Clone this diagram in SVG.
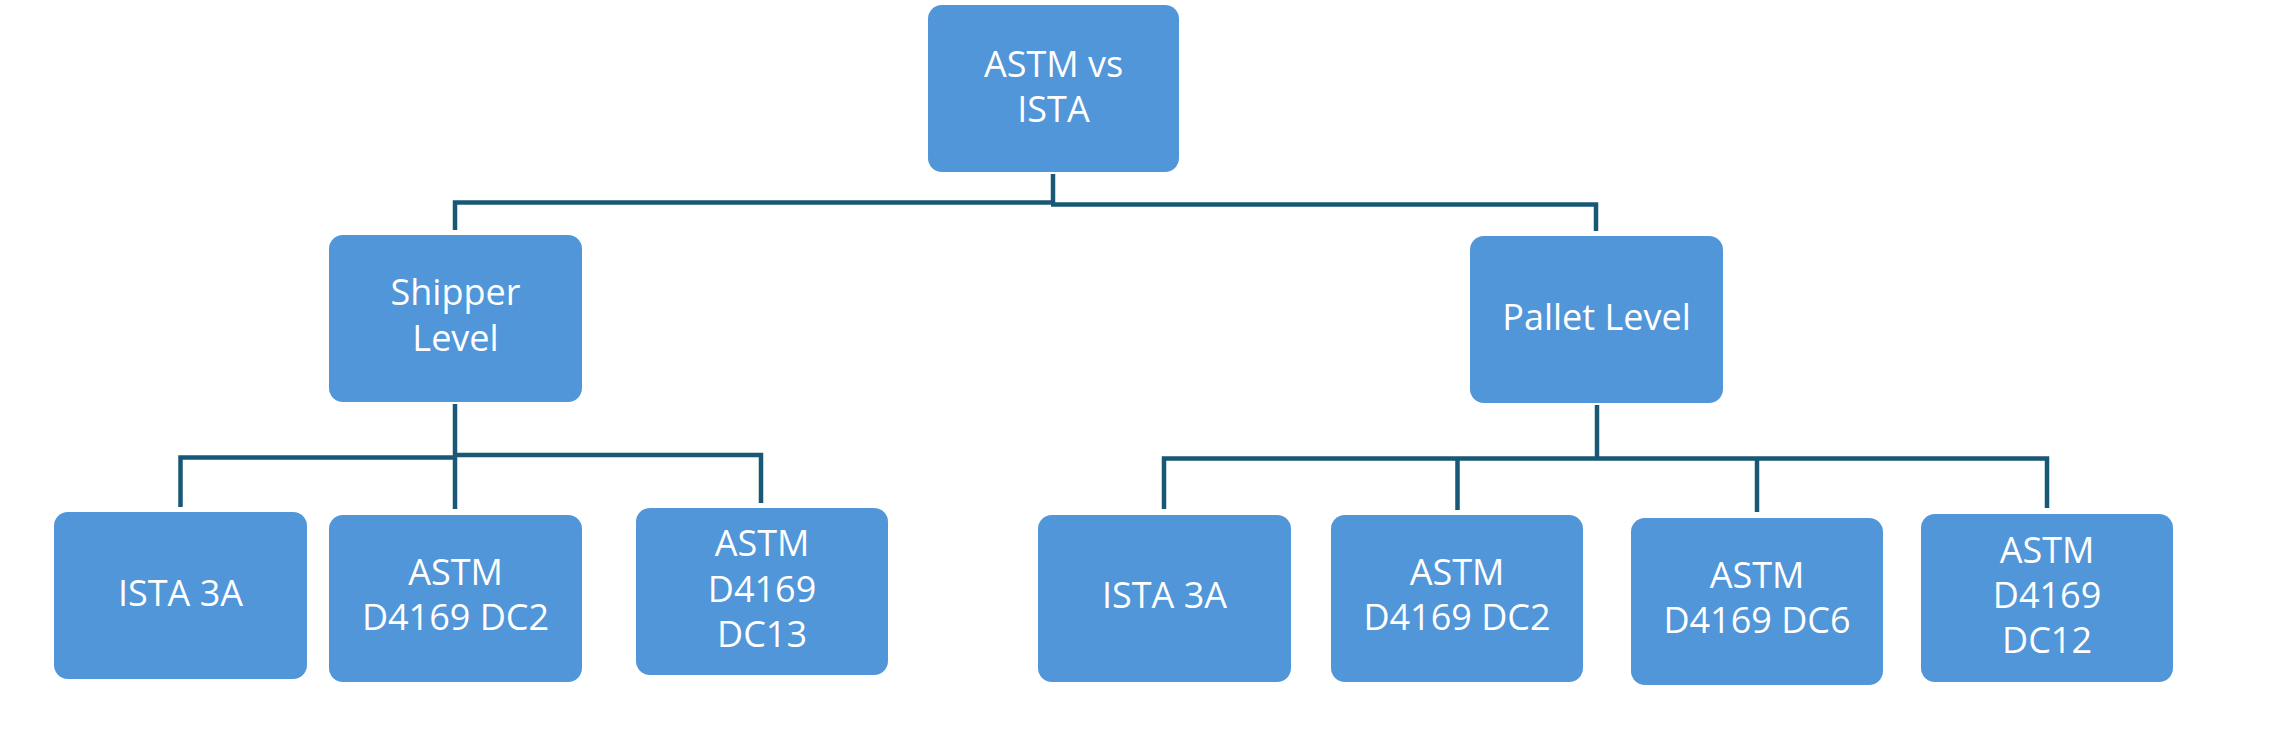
<svg xmlns="http://www.w3.org/2000/svg" width="2273" height="733" viewBox="0 0 2273 733">
<style>
.box{fill:#5096d9;}
.lbl{font-family:"Open Sans","Liberation Sans",sans-serif;font-size:36px;fill:#ffffff;text-anchor:middle;}
.conn{fill:none;stroke:#185876;stroke-width:4.5;stroke-linejoin:miter;}
</style>
<rect width="2273" height="733" fill="#ffffff"/>
<g id="connectors">
<path class="conn" d="M1053 174 V204"/>
<path class="conn" d="M455 230 V202.5 H1055"/>
<path class="conn" d="M1051 204.5 H1596 V231"/>
<path class="conn" d="M455 404 V509"/>
<path class="conn" d="M180.5 507 V457.5 H457"/>
<path class="conn" d="M453 455 H761 V503"/>
<path class="conn" d="M1597 405 V460"/>
<path class="conn" d="M1164 509 V458.5 H2047 V508"/>
<path class="conn" d="M1457.5 458 V510"/>
<path class="conn" d="M1757 458 V512"/>
</g>
<g id="root">
<rect class="box" x="928" y="5" width="251" height="167" rx="14"/>
<text class="lbl" x="1053.5" y="77">ASTM vs</text>
<text class="lbl" x="1053.5" y="122">ISTA</text>
</g>
<g id="shipper">
<rect class="box" x="329" y="235" width="253" height="167" rx="14"/>
<text class="lbl" x="455.5" y="305">Shipper</text>
<text class="lbl" x="455.5" y="351">Level</text>
</g>
<g id="pallet">
<rect class="box" x="1470" y="236" width="253" height="167" rx="14"/>
<text class="lbl" x="1596.5" y="330">Pallet Level</text>
</g>
<g id="s-ista3a">
<rect class="box" x="54" y="512" width="253" height="167" rx="14"/>
<text class="lbl" x="180.5" y="606">ISTA 3A</text>
</g>
<g id="s-dc2">
<rect class="box" x="329" y="515" width="253" height="167" rx="14"/>
<text class="lbl" x="455.5" y="585">ASTM</text>
<text class="lbl" x="455.5" y="630">D4169 DC2</text>
</g>
<g id="s-dc13">
<rect class="box" x="636" y="508" width="252" height="167" rx="14"/>
<text class="lbl" x="762" y="556">ASTM</text>
<text class="lbl" x="762" y="602">D4169</text>
<text class="lbl" x="762" y="647">DC13</text>
</g>
<g id="p-ista3a">
<rect class="box" x="1038" y="515" width="253" height="167" rx="14"/>
<text class="lbl" x="1164.5" y="608">ISTA 3A</text>
</g>
<g id="p-dc2">
<rect class="box" x="1331" y="515" width="252" height="167" rx="14"/>
<text class="lbl" x="1457" y="585">ASTM</text>
<text class="lbl" x="1457" y="630">D4169 DC2</text>
</g>
<g id="p-dc6">
<rect class="box" x="1631" y="518" width="252" height="167" rx="14"/>
<text class="lbl" x="1757" y="588">ASTM</text>
<text class="lbl" x="1757" y="633">D4169 DC6</text>
</g>
<g id="p-dc12">
<rect class="box" x="1921" y="514" width="252" height="168" rx="14"/>
<text class="lbl" x="2047" y="563">ASTM</text>
<text class="lbl" x="2047" y="608">D4169</text>
<text class="lbl" x="2047" y="653">DC12</text>
</g>
</svg>
